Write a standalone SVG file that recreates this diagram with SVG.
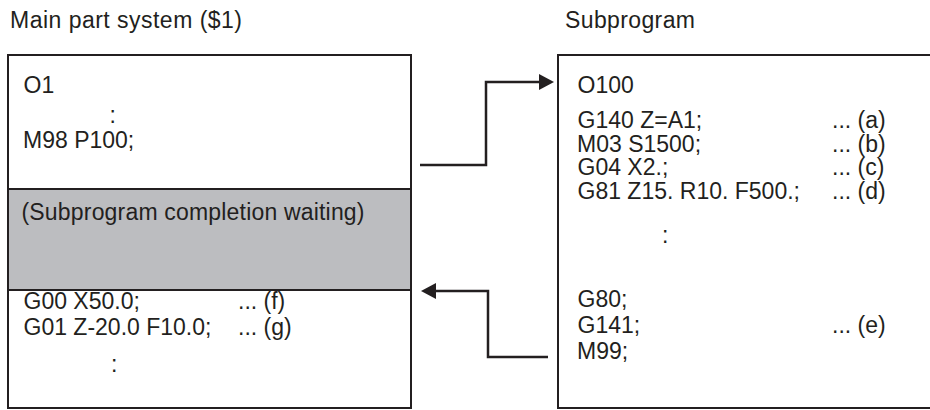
<svg xmlns="http://www.w3.org/2000/svg" width="930" height="410" viewBox="0 0 930 410">
<style>
text{font-family:"Liberation Sans",Arial,sans-serif;font-size:23px;fill:#231f20}
.box{fill:#fff;stroke:#231f20;stroke-width:2}
.gray{fill:#bcbdc0;stroke:#231f20;stroke-width:2}
.conn{fill:none;stroke:#231f20;stroke-width:2.5}
.head{fill:#231f20}
</style>
<rect width="930" height="410" fill="#fff"/>
<g id="main-title"><text x="10" y="28" textLength="232">Main part system ($1)</text></g>
<g id="sub-title"><text x="565" y="28" textLength="130">Subprogram</text></g>
<g id="main-box">
<rect class="box" x="8" y="55" width="403" height="353"/>
<rect class="gray" x="8" y="189" width="403" height="101"/>
<text x="23.5" y="93">O1</text>
<text x="109.5" y="123">:</text>
<text x="23" y="147.5">M98 P100;</text>
<text x="21.5" y="220" textLength="343">(Subprogram completion waiting)</text>
<text x="23.5" y="309">G00 X50.0;</text>
<text x="238" y="309">... (f)</text>
<text x="23.5" y="335">G01 Z-20.0 F10.0;</text>
<text x="238" y="335">... (g)</text>
<text x="111" y="372">:</text>
</g>
<g id="sub-box">
<rect class="box" x="558" y="55" width="380" height="353"/>
<text x="577.5" y="93">O100</text>
<text x="577.5" y="128">G140 Z=A1;</text>
<text x="832" y="128">... (a)</text>
<text x="577" y="151.5">M03 S1500;</text>
<text x="832" y="151.5">... (b)</text>
<text x="577.5" y="175">G04 X2.;</text>
<text x="832" y="175">... (c)</text>
<text x="577.5" y="198.5">G81 Z15. R10. F500.;</text>
<text x="832" y="198.5">... (d)</text>
<text x="662" y="243">:</text>
<text x="577.5" y="307">G80;</text>
<text x="577.5" y="333">G141;</text>
<text x="832" y="333">... (e)</text>
<text x="577" y="359">M99;</text>
</g>
<g id="connectors">
<path class="conn" d="M420,165 H486 V82 H541"/>
<polygon class="head" points="554,82 539,74 539,90"/>
<path class="conn" d="M548,357 H488 V291 H434"/>
<polygon class="head" points="421,291 436,283 436,299"/>
</g>
</svg>
